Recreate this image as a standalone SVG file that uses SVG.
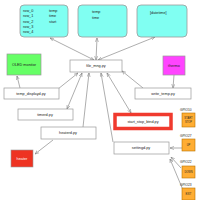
<svg xmlns="http://www.w3.org/2000/svg" width="200" height="200" viewBox="0 0 200 200">
<style>
text{font-family:"Liberation Sans",Arial,sans-serif;font-size:3.8px;fill:#222}
.c{text-anchor:middle}
.file{fill:#80fff2;stroke:#999;stroke-width:0.8}
.py{fill:#fff;stroke:#999;stroke-width:0.7}
.btn{fill:#ffad33;stroke:#b87400;stroke-width:0.6}
.bt{font-size:2.6px;text-anchor:middle}
.gl{font-size:3.2px}
.e{stroke:#777;stroke-width:0.6;fill:none}
</style>
<defs>
<marker id="ah" viewBox="0 0 10 10" refX="10" refY="5" markerWidth="4" markerHeight="4" markerUnits="userSpaceOnUse" orient="auto-start-reverse">
<path d="M0,1 L10,5 L0,9" fill="none" stroke="#777" stroke-width="1.2"/>
</marker>
</defs>
<g id="connectors">
<line class="e" x1="94" y1="60" x2="50" y2="38" marker-start="url(#ah)" marker-end="url(#ah)"/>
<line class="e" x1="96" y1="60" x2="97" y2="38" marker-start="url(#ah)" marker-end="url(#ah)"/>
<line class="e" x1="98" y1="60" x2="155" y2="37" marker-start="url(#ah)" marker-end="url(#ah)"/>
<line class="e" x1="20" y1="88" x2="17" y2="76" marker-end="url(#ah)"/>
<line class="e" x1="58" y1="89" x2="78" y2="73" marker-end="url(#ah)"/>
<line class="e" x1="82" y1="73" x2="67" y2="109" marker-start="url(#ah)" marker-end="url(#ah)"/>
<line class="e" x1="83" y1="127" x2="89" y2="73" marker-end="url(#ah)"/>
<line class="e" x1="113" y1="142" x2="101" y2="73" marker-end="url(#ah)"/>
<line class="e" x1="131" y1="113" x2="107" y2="73" marker-start="url(#ah)" marker-end="url(#ah)"/>
<line class="e" x1="143" y1="88" x2="122" y2="71" marker-end="url(#ah)"/>
<line class="e" x1="174" y1="75" x2="173" y2="88" marker-end="url(#ah)"/>
<line class="e" x1="53" y1="140" x2="35" y2="154" marker-end="url(#ah)"/>
<line class="e" x1="182" y1="148" x2="170" y2="148" marker-end="url(#ah)"/>
<line class="e" x1="181" y1="168" x2="171" y2="157" marker-end="url(#ah)"/>
<line class="e" x1="183" y1="190" x2="170" y2="159" marker-end="url(#ah)"/>
</g>
<g id="fileA">
<rect class="file" x="20" y="5" width="48" height="32" rx="4"/>
<text x="23" y="12">row_0</text><text x="23" y="17.3">row_1</text><text x="23" y="22.6">row_2</text><text x="23" y="27.9">row_3</text><text x="23" y="33.2">row_4</text>
<text x="49" y="12">temp</text><text x="49" y="17.3">time</text><text x="49" y="22.6">start</text>
</g>
<g id="fileB">
<rect class="file" x="78" y="5" width="49" height="32" rx="4"/>
<text x="92" y="13">temp</text><text x="92" y="18.5">time</text>
</g>
<g id="fileC">
<rect class="file" x="137" y="5" width="50" height="32" rx="4"/>
<text x="150" y="14">[datetime]</text>
</g>
<g id="oled">
<rect x="7" y="54" width="34" height="21" fill="#66ff66" stroke="#999" stroke-width="0.7"/>
<text class="c" x="24" y="66">OLED monitor</text>
</g>
<g id="thermo">
<rect x="163" y="56" width="22" height="19" fill="#ff44ff" stroke="#999" stroke-width="0.7"/>
<text class="c" x="174" y="67">thermo</text>
</g>
<g id="file_mng">
<rect class="py" x="70" y="60" width="52" height="12"/>
<text class="c" x="96" y="67.3">file_mng.py</text>
</g>
<g id="temp_displayd">
<rect class="py" x="4" y="88" width="55" height="11"/>
<text class="c" x="31" y="94.8">temp_displayd.py</text>
</g>
<g id="timerd">
<rect class="py" x="18" y="109" width="55" height="11"/>
<text class="c" x="45" y="115.8">timerd.py</text>
</g>
<g id="heaterd">
<rect class="py" x="41" y="127" width="55" height="12"/>
<text class="c" x="68" y="134.3">heaterd.py</text>
</g>
<g id="heater">
<rect x="11" y="150" width="22" height="17" fill="#ee3322" stroke="#999" stroke-width="0.6"/>
<text class="c" x="22" y="159.5" style="fill:#fff">heater</text>
</g>
<g id="write_temp">
<rect class="py" x="135" y="88" width="56" height="11"/>
<text class="c" x="163" y="94.8">write_temp.py</text>
</g>
<g id="start_stop_btnd">
<rect x="115" y="114.5" width="56" height="14" fill="#fff" stroke="#f03a2e" stroke-width="3.5"/>
<text class="c" x="143" y="122.8">start_stop_btnd.py</text>
</g>
<g id="settingd">
<rect class="py" x="114" y="142" width="55" height="12"/>
<text class="c" x="141" y="149.3">settingd.py</text>
</g>
<g id="gpio10">
<text class="gl" x="180" y="111">GPIO10</text>
<rect class="btn" x="182" y="113" width="13" height="14"/>
<text class="bt" x="188.5" y="119">START</text><text class="bt" x="188.5" y="123">STOP</text>
</g>
<g id="gpio27">
<text class="gl" x="180" y="137">GPIO27</text>
<rect class="btn" x="182" y="139" width="13" height="12"/>
<text class="bt" x="188.5" y="146">UP</text>
</g>
<g id="gpio22">
<text class="gl" x="180" y="163">GPIO22</text>
<rect class="btn" x="182" y="166" width="13" height="12"/>
<text class="bt" x="188.5" y="173">DOWN</text>
</g>
<g id="gpio23">
<text class="gl" x="180" y="186">GPIO23</text>
<rect class="btn" x="182" y="188" width="13" height="12"/>
<text class="bt" x="188.5" y="195">EXIT</text>
</g>
</svg>
